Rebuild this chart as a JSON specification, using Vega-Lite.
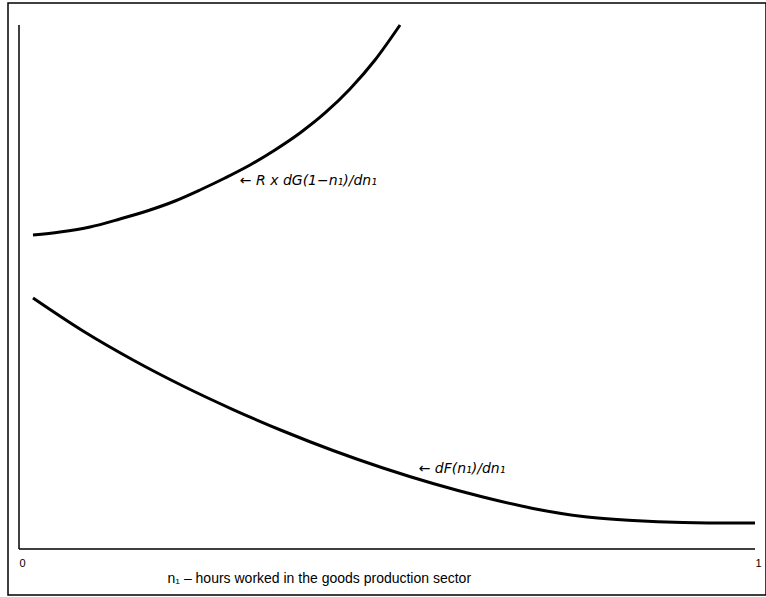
{
  "$schema": "https://vega.github.io/schema/vega-lite/v6.json",
  "width": 758,
  "height": 592,
  "autosize": {"type": "none"},
  "padding": {"left": 8, "top": 3, "right": 0, "bottom": 2},
  "background": "white",
  "view": {"stroke": "black", "strokeWidth": 1.5},
  "config": {"font": "Liberation Sans"},
  "datasets": {
    "curves": [
      {"curve": "G", "x": 0.0190, "y": 0.5992},
      {"curve": "G", "x": 0.0557, "y": 0.6050},
      {"curve": "G", "x": 0.0965, "y": 0.6145},
      {"curve": "G", "x": 0.1372, "y": 0.6298},
      {"curve": "G", "x": 0.1780, "y": 0.6469},
      {"curve": "G", "x": 0.2120, "y": 0.6641},
      {"curve": "G", "x": 0.2459, "y": 0.6851},
      {"curve": "G", "x": 0.2799, "y": 0.7080},
      {"curve": "G", "x": 0.3139, "y": 0.7328},
      {"curve": "G", "x": 0.3478, "y": 0.7615},
      {"curve": "G", "x": 0.3818, "y": 0.7939},
      {"curve": "G", "x": 0.4158, "y": 0.8321},
      {"curve": "G", "x": 0.4497, "y": 0.8779},
      {"curve": "G", "x": 0.4837, "y": 0.9332},
      {"curve": "G", "x": 0.5177, "y": 1.0},
      {"curve": "F", "x": 0.0190, "y": 0.4790},
      {"curve": "F", "x": 0.0870, "y": 0.4160},
      {"curve": "F", "x": 0.1549, "y": 0.3607},
      {"curve": "F", "x": 0.2228, "y": 0.3111},
      {"curve": "F", "x": 0.2908, "y": 0.2662},
      {"curve": "F", "x": 0.3587, "y": 0.2252},
      {"curve": "F", "x": 0.4266, "y": 0.1880},
      {"curve": "F", "x": 0.4946, "y": 0.1546},
      {"curve": "F", "x": 0.5625, "y": 0.1250},
      {"curve": "F", "x": 0.6304, "y": 0.0992},
      {"curve": "F", "x": 0.6984, "y": 0.0773},
      {"curve": "F", "x": 0.7663, "y": 0.0620},
      {"curve": "F", "x": 0.8342, "y": 0.0544},
      {"curve": "F", "x": 0.9022, "y": 0.0506},
      {"curve": "F", "x": 0.9701, "y": 0.0496},
      {"curve": "F", "x": 1.0, "y": 0.0496}
    ],
    "axes": [
      {"x": 0, "y": 0, "x2": 1, "y2": 0},
      {"x": 0, "y": 0, "x2": 0, "y2": 1}
    ],
    "labels": [
      {"x": 0.300, "y": 0.702, "text": "←  R x dG(1−n₁)/dn₁"},
      {"x": 0.543, "y": 0.153, "text": "←  dF(n₁)/dn₁"}
    ]
  },
  "layer": [
    {
      "data": {"name": "axes"},
      "mark": {"type": "rule", "color": "black", "strokeWidth": 1.5},
      "encoding": {
        "x": {
          "field": "x", "type": "quantitative",
          "scale": {"domain": [-0.01495, 1.01495], "nice": false, "zero": false},
          "axis": {
            "values": [0, 1], "format": "d", "domain": false, "ticks": false, "grid": false,
            "offset": -46, "labelAlign": "left", "labelDx": 2, "labelBaseline": "top",
            "labelPadding": 8, "labelFontSize": 11, "labelColor": "black",
            "title": "n₁ – hours worked in the goods production sector",
            "titleX": 159, "titleY": 33, "titleAlign": "left", "titleAnchor": "start",
            "titleBaseline": "alphabetic", "titleFontSize": 14, "titleFontWeight": "normal",
            "titleColor": "black"
          }
        },
        "y": {
          "field": "y", "type": "quantitative",
          "scale": {"domain": [-0.0878, 1.042], "nice": false, "zero": false},
          "axis": null
        },
        "x2": {"field": "x2"},
        "y2": {"field": "y2"}
      }
    },
    {
      "data": {"name": "curves"},
      "mark": {"type": "line", "color": "black", "strokeWidth": 3, "interpolate": "monotone"},
      "encoding": {
        "x": {"field": "x", "type": "quantitative"},
        "y": {"field": "y", "type": "quantitative"},
        "detail": {"field": "curve"}
      }
    },
    {
      "data": {"name": "labels"},
      "mark": {"type": "text", "align": "left", "baseline": "middle", "fontSize": 14, "fontStyle": "italic", "font": "DejaVu Sans", "color": "black"},
      "encoding": {
        "x": {"field": "x", "type": "quantitative"},
        "y": {"field": "y", "type": "quantitative"},
        "text": {"field": "text"}
      }
    }
  ]
}
